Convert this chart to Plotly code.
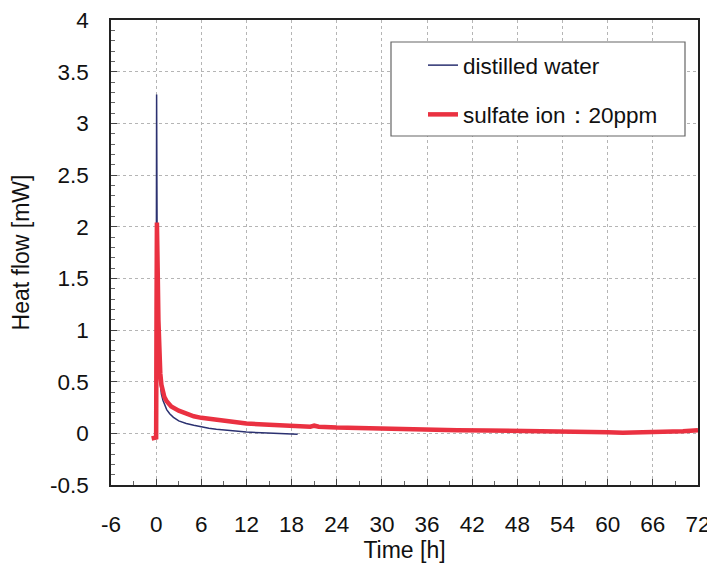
import plotly.graph_objects as go

# distilled water
t_water = [-0.3, -0.05, 0.0, 0.03, 0.06, 0.1, 0.15, 0.22, 0.3, 0.4, 0.55, 0.7, 0.9, 1.1, 1.4, 1.8, 2.3, 3.0, 4.0, 5.0, 6.0, 7.0, 8.0, 10.0, 12.0, 14.0, 16.0, 18.0, 18.8]
v_water = [-0.05, -0.05, 0.3, 2.2, 3.28, 2.4, 1.5, 1.0, 0.75, 0.58, 0.45, 0.38, 0.32, 0.28, 0.23, 0.19, 0.155, 0.12, 0.095, 0.078, 0.062, 0.05, 0.04, 0.025, 0.013, 0.005, -0.002, -0.008, -0.01]

# sulfate ion : 20ppm
t_sulf = [-0.6, -0.1, 0.0, 0.05, 0.1, 0.2, 0.3, 0.4, 0.55, 0.7, 0.9, 1.1, 1.4, 2.0, 3.0, 4.0, 5.0, 6.0, 8.0, 10.0, 12.0, 15.0, 18.0, 20.5, 21.0, 21.6, 24.0, 27.0, 30.0, 33.0, 36.0, 40.0, 44.0, 48.0, 52.0, 56.0, 60.0, 62.0, 64.0, 66.0, 68.0, 70.0, 72.0]
v_sulf = [-0.05, -0.05, -0.04, 1.2, 2.04, 1.6, 1.1, 0.8, 0.58, 0.47, 0.4, 0.35, 0.31, 0.26, 0.22, 0.19, 0.165, 0.15, 0.13, 0.11, 0.095, 0.082, 0.07, 0.064, 0.074, 0.064, 0.056, 0.05, 0.044, 0.04, 0.036, 0.031, 0.028, 0.026, 0.024, 0.02, 0.01, 0.005, 0.006, 0.01, 0.015, 0.02, 0.03]

x_ticks = [-6, 0, 6, 12, 18, 24, 30, 36, 42, 48, 54, 60, 66, 72]
y_ticks = [-0.5, 0, 0.5, 1, 1.5, 2, 2.5, 3, 3.5, 4]
y_tick_text = ["-0.5", "0", "0.5", "1", "1.5", "2", "2.5", "3", "3.5", "4"]

FONT = "Liberation Sans, Arial, sans-serif"

fig = go.Figure()
fig.add_trace(go.Scatter(x=t_water, y=v_water, mode="lines", name="distilled water",
                         line=dict(color="#2B3170", width=1.5), legendgroup="a"))
fig.add_trace(go.Scatter(x=t_sulf, y=v_sulf, mode="lines", name="sulfate ion：20ppm",
                         line=dict(color="#EA3141", width=4.5), legendgroup="b"))

axis_common = dict(showline=True, mirror=True, linecolor="#222", linewidth=1.5,
                   showgrid=True, gridcolor="#b5b5b5", griddash="dot", gridwidth=1,
                   zeroline=False, ticks="inside", ticklen=6, tickcolor="#444",
                   automargin=False, ticklabeloverflow="allow",
                   tickfont=dict(family=FONT, size=22.5, color="#111"))

fig.update_xaxes(range=[-6, 72], tickvals=x_ticks, ticktext=[str(v) for v in x_ticks],
                 minor=dict(dtick=3, ticks="inside", ticklen=4, tickcolor="#666", showgrid=False),
                 title=dict(text="Time [h]", font=dict(family=FONT, size=23, color="#111"), standoff=4),
                 ticklabelstandoff=18, **axis_common)
fig.update_yaxes(range=[-0.5, 4], tickvals=y_ticks, ticktext=y_tick_text,
                 minor=dict(dtick=0.1, ticks="inside", ticklen=4, tickcolor="#666", showgrid=False),
                 title=dict(text="Heat flow [mW]", font=dict(family=FONT, size=23, color="#111"), standoff=18),
                 ticklabelstandoff=16, **axis_common)

# plot area: 587 x 465 px
PW, PH = 587, 465

# legend box
fig.add_shape(type="rect", xref="paper", yref="paper",
              x0=(391 - 111) / PW, x1=(685 - 111) / PW,
              y0=(485 - 136) / PH, y1=(485 - 42) / PH,
              fillcolor="white", line=dict(color="#666", width=1.2), layer="above")

# the page body has an 8px margin, so the figure is sized to fit the window
fig.update_layout(
    width=707, height=556,
    margin=dict(l=103, r=17, t=12, b=79),
    paper_bgcolor="white", plot_bgcolor="white",
    font=dict(family=FONT, size=18, color="#111"),
    showlegend=True,
    legend=dict(x=(423 - 111) / PW, y=(485 - 44) / PH, xanchor="left", yanchor="top",
                bgcolor="rgba(0,0,0,0)", borderwidth=0,
                font=dict(family=FONT, size=22.5, color="#111"),
                traceorder="grouped", tracegroupgap=17),
)

fig.write_html("out.html")
